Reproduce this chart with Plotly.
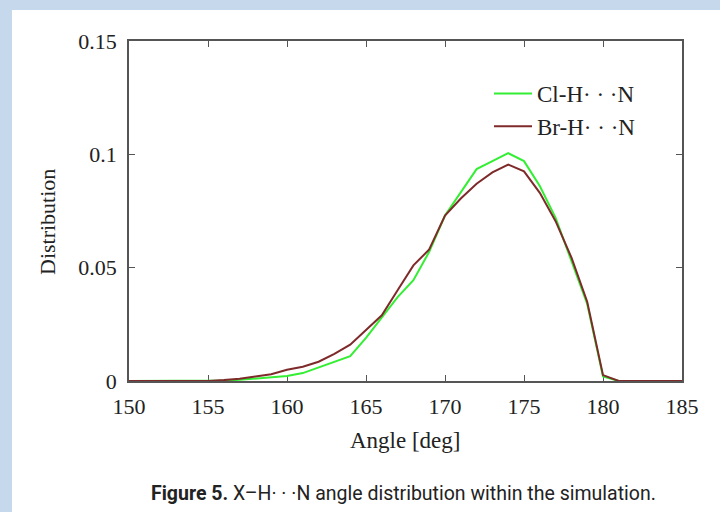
import plotly.graph_objects as go

angles = list(range(150, 186))
cl_vals = [0, 0, 0, 0, 0, 0, 0.0002, 0.0005, 0.001, 0.0015,
           0.0022, 0.0035, 0.006, 0.0085, 0.011, 0.019, 0.028, 0.037, 0.0445, 0.057,
           0.073, 0.083, 0.0935, 0.097, 0.1005, 0.097, 0.086, 0.072, 0.053, 0.034,
           0.002, 0, 0, 0, 0, 0]
br_vals = [0, 0, 0, 0, 0, 0, 0.0004, 0.001, 0.002, 0.003,
           0.005, 0.0063, 0.0085, 0.012, 0.016, 0.0225, 0.029, 0.040, 0.051, 0.058,
           0.073, 0.0805, 0.087, 0.092, 0.0955, 0.0925, 0.083, 0.0705, 0.0545, 0.035,
           0.0026, 0, 0, 0, 0, 0]
series_names = ["Cl-H· · ·N", "Br-H· · ·N"]
x_ticks = [150, 155, 160, 165, 170, 175, 180, 185]
y_ticks = [0, 0.05, 0.1, 0.15]
y_tick_text = ["0", "0.05", "0.1", "0.15"]

SERIF = "Liberation Serif, Times New Roman, serif"
W, H = 720, 512
L, R, T, B = 129, 38, 41, 131
pw, ph = W - L - R, H - T - B

def px_x(p):
    return (p - L) / pw

def px_y(p):
    return (H - B - p) / ph

fig = go.Figure()
fig.add_trace(go.Scatter(x=angles, y=cl_vals, mode="lines", name=series_names[0],
                         line=dict(color="#33ee33", width=2)))
fig.add_trace(go.Scatter(x=angles, y=br_vals, mode="lines", name=series_names[1],
                         line=dict(color="#7f2a2a", width=2)))

axis_common = dict(showline=True, linecolor="#555555", linewidth=1.5, mirror="ticks",
                   ticks="inside", ticklen=6, tickcolor="#555555", tickwidth=1.2,
                   showgrid=False, zeroline=False,
                   tickfont=dict(family=SERIF, size=22, color="#222222"),
                   layer="below traces")

fig.update_xaxes(range=[150, 185], tickvals=x_ticks, ticklabelstandoff=5, **axis_common)
fig.update_yaxes(range=[0, 0.15], tickvals=y_ticks, ticktext=y_tick_text,
                 ticklabelstandoff=6, **axis_common)

shapes = [
    dict(type="rect", xref="paper", yref="paper", x0=px_x(-20), x1=px_x(12),
         y0=px_y(H + 20), y1=px_y(-20), fillcolor="#c6d9ec", line=dict(width=0), layer="below"),
    dict(type="rect", xref="paper", yref="paper", x0=px_x(-20), x1=px_x(W + 20),
         y0=px_y(10), y1=px_y(-20), fillcolor="#c6d9ec", line=dict(width=0), layer="below"),
]

annotations = [
    dict(text="Angle [deg]", xref="paper", yref="paper", x=px_x(405), y=px_y(440),
         showarrow=False, font=dict(family=SERIF, size=23, color="#222222"),
         xanchor="center", yanchor="middle"),
    dict(text="Distribution", xref="paper", yref="paper", x=px_x(47), y=px_y(222),
         showarrow=False, textangle=-90, font=dict(family=SERIF, size=22, color="#222222"),
         xanchor="center", yanchor="middle"),
    dict(text="<b>Figure 5.</b> X–H· · ·N angle distribution within the simulation.",
         xref="paper", yref="paper", x=px_x(403), y=px_y(493), showarrow=False,
         font=dict(family="Liberation Sans Narrow, Roboto, sans-serif", size=19.5, color="#222222"),
         xanchor="center", yanchor="middle"),
]

fig.update_layout(
    width=W, height=H,
    margin=dict(l=L, r=R, t=T, b=B),
    paper_bgcolor="white", plot_bgcolor="white",
    shapes=shapes, annotations=annotations,
    legend=dict(x=px_x(489), y=px_y(72), xanchor="left", yanchor="top",
                bgcolor="rgba(0,0,0,0)", font=dict(family=SERIF, size=23, color="#222222"),
                itemwidth=38),
    showlegend=True,
)

fig.write_html("out.html")
